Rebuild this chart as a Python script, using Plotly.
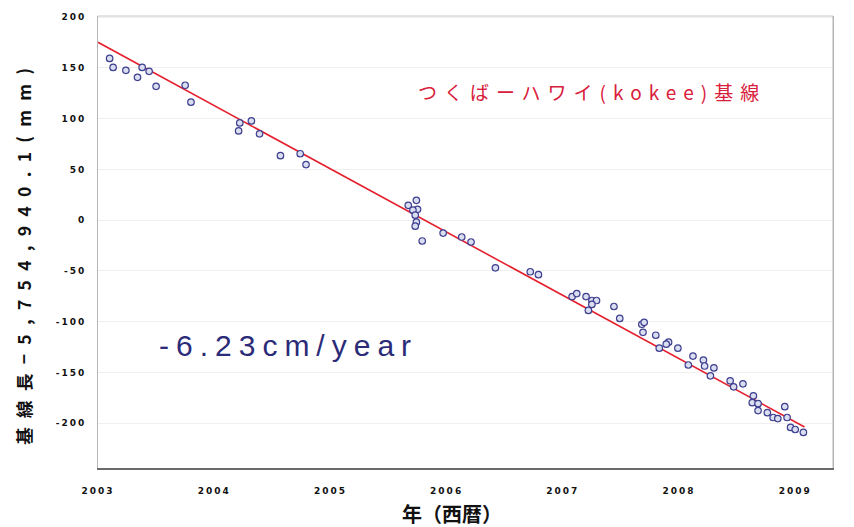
import plotly.graph_objects as go

# Observed baseline length (decimal year, mm offset from 5,754,940.1 m)
obs_years = [
    2003.10, 2003.13, 2003.24, 2003.34, 2003.38, 2003.44, 2003.50, 2003.75,
    2003.80, 2004.21, 2004.22, 2004.32, 2004.39, 2004.57, 2004.74, 2004.79,
    2005.67, 2005.74, 2005.75, 2005.71, 2005.73, 2005.74, 2005.73, 2005.79,
    2005.97, 2006.13, 2006.21, 2006.42, 2006.72, 2006.79, 2007.08, 2007.12,
    2007.20, 2007.25, 2007.29, 2007.22, 2007.25, 2007.44, 2007.49, 2007.68,
    2007.70, 2007.69, 2007.80, 2007.83, 2007.91, 2007.89, 2007.99, 2008.12,
    2008.08, 2008.21, 2008.30, 2008.22, 2008.27, 2008.44, 2008.47, 2008.55,
    2008.64, 2008.63, 2008.68, 2008.68, 2008.76, 2008.81, 2008.85, 2008.91,
    2008.93, 2008.96, 2009.00, 2009.07,
]
obs_mm = [
    159.2, 150.4, 147.5, 140.6, 150.4, 146.5, 131.8, 132.8,
    116.2, 87.9, 95.7, 97.7, 85.0, 63.5, 65.4, 54.7,
    14.6, 19.5, 10.7, 9.8, 4.9, -2.0, -5.9, -20.5,
    -12.7, -16.6, -21.5, -46.9, -50.8, -53.7, -75.2, -72.3,
    -75.2, -79.1, -79.1, -88.9, -83.0, -85.0, -96.7, -102.5,
    -100.6, -110.4, -113.3, -126.0, -120.1, -122.1, -126.0, -133.8,
    -142.6, -137.7, -145.5, -143.6, -153.3, -158.2, -164.1, -161.1,
    -172.9, -179.7, -180.7, -187.5, -189.5, -194.3, -195.3, -183.6,
    -194.3, -204.1, -206.1, -209.0,
]

# Linear trend: -6.23 cm/year
rate_mm_per_year = -62.3
trend_ref_year = 2006.06
trend_ref_mm = -15.5
trend_years = [2003.0, 2009.08]
trend_mm = [trend_ref_mm + rate_mm_per_year * (t - trend_ref_year) for t in trend_years]

x_ticks = [2003, 2004, 2005, 2006, 2007, 2008, 2009]
x_tick_labels = ["2003", "2004", "2005", "2006", "2007", "2008", "2009"]
y_ticks = [200, 150, 100, 50, 0, -50, -100, -150, -200]
y_tick_labels = ["200", "150", "100", "50", "0", "-50", "-100", "-150", "-200"]

baseline_label = "つくばーハワイ(kokee)基線"
rate_label = "-6.23cm/year"
y_title = "基線長−5,754,940.1(mm)"
x_title = "年（西暦）"


def spaced(text, px):
    return f'<span style="letter-spacing:{px}px">{text}</span>'


fig = go.Figure()

fig.add_trace(go.Scatter(
    x=trend_years, y=trend_mm, mode="lines",
    line=dict(color="#e5202e", width=1.6),
    hoverinfo="skip", showlegend=False,
))

fig.add_trace(go.Scatter(
    x=obs_years, y=obs_mm, mode="markers",
    marker=dict(symbol="circle", size=6.5, color="#d9def0",
                line=dict(color="#3f3f8f", width=1.2)),
    showlegend=False,
))

tick_font = dict(family="DejaVu Sans", size=9, color="#111111")

fig.update_xaxes(
    range=[2003.0, 2009.325],
    tickvals=x_ticks,
    ticktext=[spaced(f"<b>{t}</b>", 2) for t in x_tick_labels],
    tickfont=tick_font,
    ticks="", ticklabelstandoff=13,
    showgrid=False, zeroline=False,
    showline=True, linecolor="#6a6a6a", linewidth=2, mirror=False,
)
fig.update_yaxes(
    range=[-244, 201],
    tickvals=y_ticks,
    ticktext=[spaced(f"<b>{t}</b>", 2) for t in y_tick_labels],
    tickfont=tick_font,
    ticks="", ticklabelstandoff=9,
    showgrid=True, gridcolor="#efefef", gridwidth=1,
    zeroline=False,
    showline=True, linecolor="#b5b5b5", linewidth=1, mirror=True,
)

# Top and right frame lines
fig.add_shape(type="line", xref="paper", yref="paper", x0=0, x1=1, y0=1, y1=1,
              line=dict(color="#c8c8c8", width=1))
fig.add_shape(type="line", xref="paper", yref="paper", x0=1, x1=1, y0=0, y1=1,
              line=dict(color="#b5b5b5", width=1))

fig.add_annotation(
    xref="paper", yref="paper", x=0.672, y=0.834,
    xanchor="center", yanchor="middle", showarrow=False,
    text=spaced(baseline_label, 7),
    font=dict(family="Noto Sans CJK JP", size=19, color="#d8203c"),
)
fig.add_annotation(
    xref="paper", yref="paper", x=0.080, y=0.270,
    xanchor="left", yanchor="middle", showarrow=False,
    text=spaced(rate_label, 7),
    font=dict(family="Liberation Sans", size=30, color="#2b2b78"),
)
fig.add_annotation(
    xref="paper", yref="paper", x=-0.101, y=0.478,
    xanchor="center", yanchor="middle", showarrow=False, textangle=-90,
    text=spaced(f"<b>{y_title}</b>", 9.3),
    font=dict(family="Noto Sans CJK JP", size=17.5, color="#111111"),
)
fig.add_annotation(
    xref="paper", yref="paper", x=0.482, y=-0.1,
    xanchor="center", yanchor="middle", showarrow=False,
    text=f"<b>{x_title}</b>",
    font=dict(family="Noto Sans CJK JP", size=20, color="#111111"),
)

fig.update_layout(
    width=854, height=527,
    margin=dict(l=98, r=21, t=12, b=59),
    paper_bgcolor="white", plot_bgcolor="white",
    showlegend=False,
)

fig.write_html("out.html")
